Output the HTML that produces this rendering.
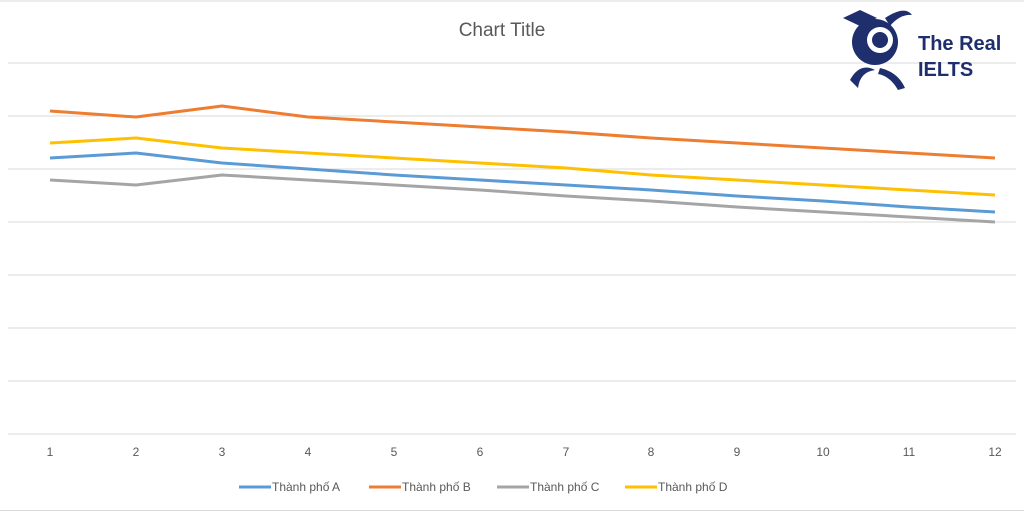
<!DOCTYPE html>
<html><head><meta charset="utf-8"><style>
body{margin:0;background:#fff;}
svg{display:block;font-family:"Liberation Sans",sans-serif;}
</style></head><body>
<svg width="1024" height="512" viewBox="0 0 1024 512">
<rect x="0" y="0" width="1024" height="512" fill="#fff"/>
<line x1="0" y1="1" x2="1024" y2="1" stroke="#d9d9d9"/>
<line x1="0" y1="510.5" x2="1024" y2="510.5" stroke="#d9d9d9"/>
<g stroke="#d9d9d9" stroke-width="1">
<line x1="8" y1="63" x2="1016" y2="63"/>
<line x1="8" y1="116" x2="1016" y2="116"/>
<line x1="8" y1="169" x2="1016" y2="169"/>
<line x1="8" y1="222" x2="1016" y2="222"/>
<line x1="8" y1="275" x2="1016" y2="275"/>
<line x1="8" y1="328" x2="1016" y2="328"/>
<line x1="8" y1="381" x2="1016" y2="381"/>
<line x1="8" y1="434" x2="1016" y2="434"/>
</g>
<text x="502" y="36" font-size="19" fill="#595959" text-anchor="middle">Chart Title</text>
<g font-size="12" fill="#595959" text-anchor="middle">
<text x="50" y="456">1</text><text x="136" y="456">2</text><text x="222" y="456">3</text><text x="308" y="456">4</text><text x="394" y="456">5</text><text x="480" y="456">6</text><text x="566" y="456">7</text><text x="651" y="456">8</text><text x="737" y="456">9</text><text x="823" y="456">10</text><text x="909" y="456">11</text><text x="995" y="456">12</text>
</g>
<g fill="none" stroke-width="3" stroke-linejoin="round">
<polyline stroke="#ed7d31" points="50,111 136,117 222,106 308,117 394,122 480,127 566,132 651,138 737,143 823,148 909,153 995,158"/>
<polyline stroke="#ffc000" points="50,143 136,138 222,148 308,153 394,158 480,163 566,168 651,175 737,180 823,185 909,190 995,195"/>
<polyline stroke="#5b9bd5" points="50,158 136,153 222,163 308,169 394,175 480,180 566,185 651,190 737,196 823,201 909,207 995,212"/>
<polyline stroke="#a5a5a5" points="50,180 136,185 222,175 308,180 394,185 480,190 566,196 651,201 737,207 823,212 909,217 995,222"/>
</g>
<g font-size="12" fill="#595959">
<line x1="239" y1="487" x2="271" y2="487" stroke="#5b9bd5" stroke-width="3"/><text x="272" y="491">Thành phố A</text>
<line x1="369" y1="487" x2="401" y2="487" stroke="#ed7d31" stroke-width="3"/><text x="402" y="491">Thành phố B</text>
<line x1="497" y1="487" x2="529" y2="487" stroke="#a5a5a5" stroke-width="3"/><text x="530" y="491">Thành phố C</text>
<line x1="625" y1="487" x2="657" y2="487" stroke="#ffc000" stroke-width="3"/><text x="658" y="491">Thành phố D</text>
</g>
<g fill="#1f2f6e">
<path d="M843 18 L860 10 L877 18 L860 26 Z"/>
<circle cx="875" cy="42" r="23"/>
<circle cx="880" cy="40" r="13" fill="#fff"/>
<circle cx="880" cy="40" r="8"/>
<path d="M885 18 Q905 5 912 15 Q900 14 890 26 Z"/>
<path d="M850 80 Q860 62 875 70 Q860 72 858 88 Z"/>
<path d="M880 68 Q898 72 905 88 L898 90 Q890 76 878 74 Z"/>
<text x="918" y="50" font-size="20" font-weight="bold">The Real</text>
<text x="918" y="76" font-size="20" font-weight="bold">IELTS</text>
</g>
</svg>
</body></html>
